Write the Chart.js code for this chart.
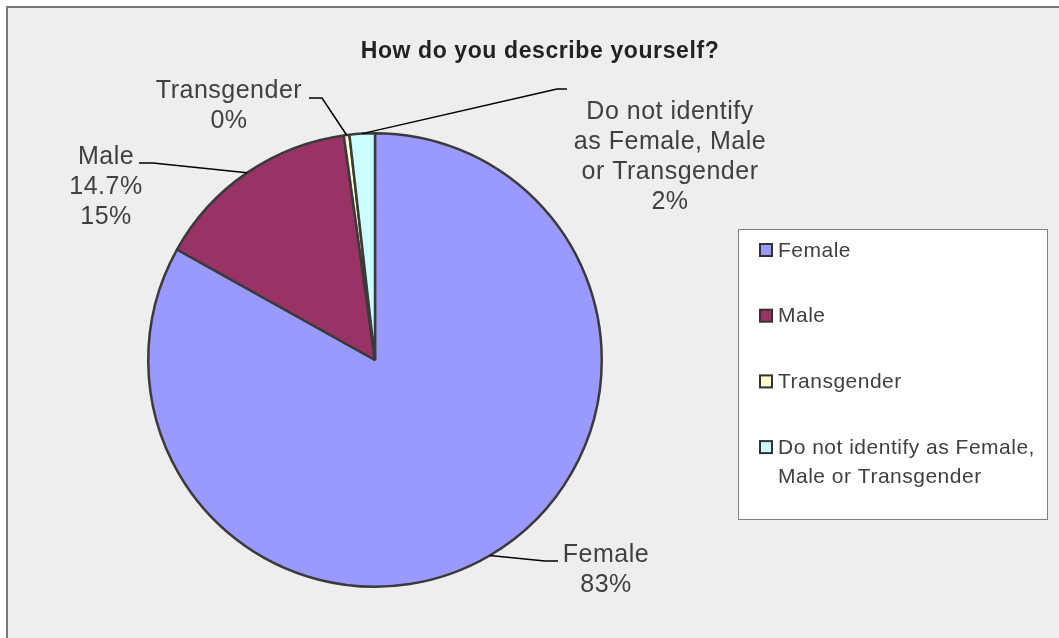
<!DOCTYPE html>
<html>
<head>
<meta charset="utf-8">
<script src="https://cdn.jsdelivr.net/npm/chart.js@4/dist/chart.umd.min.js"></script>
<style>
    html, body { margin: 0; padding: 0; background: #fff; }
    canvas { display: block; }
</style>
</head>
<body>
<canvas id="chart" width="1059" height="638"></canvas>
<script>
const categories = ['Female', 'Male', 'Transgender', 'Do not identify as Female, Male or Transgender'];
const shares = [83.1, 14.7, 0.4, 1.8];
const sliceColors = ['#9999ff', '#993366', '#ffffcc', '#ccffff'];

// slice label text (name lines, then any extra value lines before the rounded %)
const labelNames = [['Female'], ['Male'], ['Transgender'], ['Do not identify', 'as Female, Male', 'or Transgender']];
const labelExtra = [[], ['14.7%'], [], []];
const legendLines = [['Female'], ['Male'], ['Transgender'], ['Do not identify as Female,', 'Male or Transgender']];

const titleText = 'How do you describe yourself?';
const FONT = '"Liberation Sans", Arial, sans-serif';
const TEXT = '#404040';

// where Excel put the labels, relative to the pie centre
const labelLayout = [
    { elbow: [170, 201], end: [183, 201], text: [231, 202] },
    { elbow: [-222, -197], end: [-236, -197], text: [-269, -196] },
    { elbow: [-53, -262], end: [-66, -262], text: [-146, -262] },
    { elbow: [182, -271], end: [192, -271], text: [295, -241] }
];

const frame = {
    id: 'frame',
    beforeDraw(chart) {
        const ctx = chart.ctx;
        ctx.save();
        ctx.fillStyle = '#fff';
        ctx.fillRect(0, 0, chart.width, chart.height);
        ctx.fillStyle = '#eeeeee';
        ctx.fillRect(7, 7, chart.width, chart.height);
        ctx.strokeStyle = '#777';
        ctx.lineWidth = 2;
        ctx.beginPath();
        ctx.moveTo(7, chart.height);
        ctx.lineTo(7, 7);
        ctx.lineTo(chart.width, 7);
        ctx.stroke();

        // title
        ctx.fillStyle = '#222';
        ctx.font = 'bold 23px ' + FONT;
        ctx.letterSpacing = '0.6px';
        ctx.textAlign = 'center';
        ctx.textBaseline = 'alphabetic';
        ctx.fillText(titleText, 540, 58);
        ctx.restore();
    }
};

const sliceLabels = {
    id: 'sliceLabels',
    afterDatasetsDraw(chart) {
        const ctx = chart.ctx;
        const arcs = chart.getDatasetMeta(0).data;
        const total = shares.reduce((a, b) => a + b, 0);
        ctx.save();
        arcs.forEach((arc, i) => {
            const { x, y, startAngle, endAngle, outerRadius } = arc.getProps(['x', 'y', 'startAngle', 'endAngle', 'outerRadius'], true);
            const mid = (startAngle + endAngle) / 2;
            const lay = labelLayout[i];
            ctx.strokeStyle = '#000';
            ctx.lineWidth = 1.5;
            ctx.beginPath();
            ctx.moveTo(x + outerRadius * Math.cos(mid), y + outerRadius * Math.sin(mid));
            ctx.lineTo(x + lay.elbow[0], y + lay.elbow[1]);
            ctx.lineTo(x + lay.end[0], y + lay.end[1]);
            ctx.stroke();

            const lines = labelNames[i].concat(labelExtra[i], [Math.round(shares[i] / total * 100) + '%']);
            ctx.fillStyle = TEXT;
            ctx.font = '25px ' + FONT;
            ctx.letterSpacing = '0.5px';
            ctx.textAlign = 'center';
            ctx.textBaseline = 'alphabetic';
            lines.forEach((line, k) => {
                ctx.fillText(line, x + lay.text[0], y + lay.text[1] + k * 30);
            });
        });
        ctx.restore();
    }
};

const boxLegend = {
    id: 'boxLegend',
    afterDraw(chart) {
        const ctx = chart.ctx;
        const left = 738, top = 229, w = 309, h = 290;
        ctx.save();
        ctx.fillStyle = '#fff';
        ctx.fillRect(left, top, w, h);
        ctx.strokeStyle = '#808080';
        ctx.lineWidth = 1;
        ctx.strokeRect(left + 0.5, top + 0.5, w, h);

        ctx.font = '21px ' + FONT;
        ctx.letterSpacing = '0.5px';
        ctx.textAlign = 'left';
        ctx.textBaseline = 'middle';
        categories.forEach((cat, i) => {
            const cy = top + 21 + i * 65.7;
            ctx.fillStyle = sliceColors[i];
            ctx.fillRect(760, cy - 6, 12, 12);
            ctx.strokeStyle = '#333';
            ctx.lineWidth = 2;
            ctx.strokeRect(760, cy - 6, 12, 12);
            ctx.fillStyle = TEXT;
            legendLines[i].forEach((line, k) => {
                ctx.fillText(line, 778, cy + 1 + k * 29);
            });
        });
        ctx.restore();
    }
};

new Chart(document.getElementById('chart'), {
    type: 'pie',
    data: {
        labels: categories,
        datasets: [{
            data: shares,
            backgroundColor: sliceColors,
            borderColor: '#3a3a3a',
            borderWidth: 2.5
        }]
    },
    options: {
        responsive: false,
        devicePixelRatio: 1,
        animation: false,
        layout: {
            padding: { left: 147, right: 456, top: 132, bottom: 50 }
        },
        plugins: {
            legend: { display: false },
            tooltip: { enabled: false }
        }
    },
    plugins: [frame, sliceLabels, boxLegend]
});
</script>
</body>
</html>
